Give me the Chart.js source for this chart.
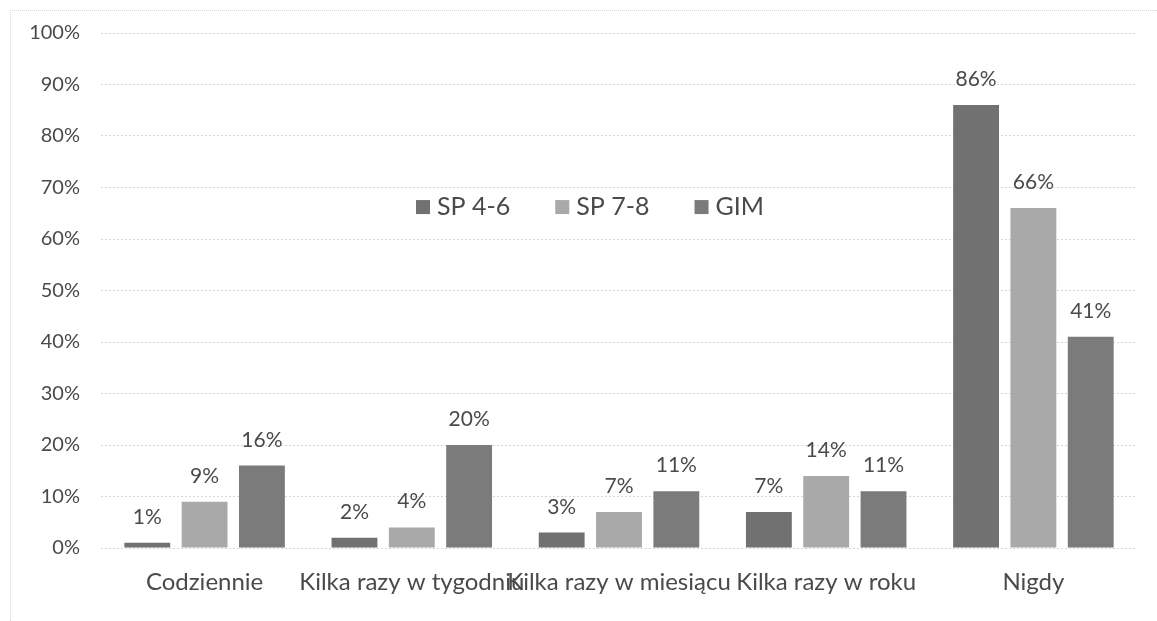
<!DOCTYPE html>
<html>
<head>
<meta charset="utf-8">
<script src="https://cdn.jsdelivr.net/npm/chart.js@4/dist/chart.umd.min.js"></script>
<style>
    html, body { margin: 0; padding: 0; background: #fff; }
    #wrap { position: relative; width: 1157px; height: 621px; }
    #frame { position: absolute; left: 10px; top: 10px; right: 0; bottom: 0;
             border-top: 1px dotted #d8d8d8; border-left: 1px dotted #d8d8d8; pointer-events: none; }
</style>
</head>
<body>
<div id="wrap">
    <canvas id="freqChart" width="1157" height="621"></canvas>
    <div id="frame"></div>
</div>
<script>
var categories = ['Codziennie', 'Kilka razy w tygodniu', 'Kilka razy w miesiącu', 'Kilka razy w roku', 'Nigdy'];
var seriesNames = ['SP 4-6', 'SP 7-8', 'GIM'];
var sp46 = [1, 2, 3, 7, 86];
var sp78 = [9, 4, 7, 14, 66];
var gim = [16, 20, 11, 11, 41];
var yTicks = [0, 10, 20, 30, 40, 50, 60, 70, 80, 90, 100];
var colors = ['#717171', '#a9a9a9', '#7b7b7b'];

var textColor = '#4a4a4a';
var fontFamily = 'Lato, "Open Sans", sans-serif';

// value labels above every bar
var barLabels = {
    id: 'barLabels',
    afterDatasetsDraw: function (chart) {
        var ctx = chart.ctx;
        ctx.save();
        ctx.font = '21px ' + fontFamily;
        ctx.fillStyle = textColor;
        ctx.textAlign = 'center';
        ctx.textBaseline = 'alphabetic';
        chart.data.datasets.forEach(function (ds, i) {
            chart.getDatasetMeta(i).data.forEach(function (bar, j) {
                ctx.fillText(ds.data[j] + '%', bar.x, bar.y - 19);
            });
        });
        ctx.restore();
    }
};

// legend sits inside the plot area
var innerLegend = {
    id: 'innerLegend',
    afterDraw: function (chart) {
        var ctx = chart.ctx;
        var area = chart.chartArea;
        var y = chart.scales.y.getPixelForValue(66.2);
        ctx.save();
        ctx.font = '25px ' + fontFamily;
        ctx.textBaseline = 'middle';
        var box = 14, gapBox = 7, gapItem = 45;
        var x = area.left + 315;
        seriesNames.forEach(function (name, i) {
            ctx.fillStyle = colors[i];
            ctx.fillRect(x, y - box / 2, box, box);
            x += box + gapBox;
            ctx.fillStyle = textColor;
            ctx.fillText(name, x, y);
            x += ctx.measureText(name).width + gapItem;
        });
        ctx.restore();
    }
};

var ctx = document.getElementById('freqChart').getContext('2d');
var chart = new Chart(ctx, {
    type: 'bar',
    data: {
        labels: categories,
        datasets: [sp46, sp78, gim].map(function (d, i) {
            return {
                label: seriesNames[i],
                data: d,
                backgroundColor: colors[i],
                barPercentage: 0.8,
                categoryPercentage: 0.83
            };
        })
    },
    options: {
        responsive: false,
        animation: false,
        layout: { padding: { top: 31, right: 20, left: 0, bottom: 0 } },
        plugins: {
            legend: { display: false },
            tooltip: { enabled: false }
        },
        scales: {
            x: {
                grid: { display: false },
                border: { display: false },
                ticks: {
                    autoSkip: false,
                    maxRotation: 0,
                    color: textColor,
                    font: { size: 24, family: fontFamily },
                    padding: 12
                },
                afterFit: function (axis) { axis.height = 73; }
            },
            y: {
                min: 0,
                max: 100,
                afterBuildTicks: function (axis) {
                    axis.ticks = yTicks.map(function (v) { return { value: v }; });
                },
                grid: { color: '#d6d6d6', drawTicks: false },
                border: { display: false, dash: [2, 2] },
                ticks: {
                    color: textColor,
                    padding: 21,
                    font: { size: 20, family: fontFamily },
                    callback: function (v) { return v + '%'; }
                },
                afterFit: function (axis) { axis.width = 101; }
            }
        }
    },
    plugins: [barLabels, innerLegend]
});
</script>
</body>
</html>
